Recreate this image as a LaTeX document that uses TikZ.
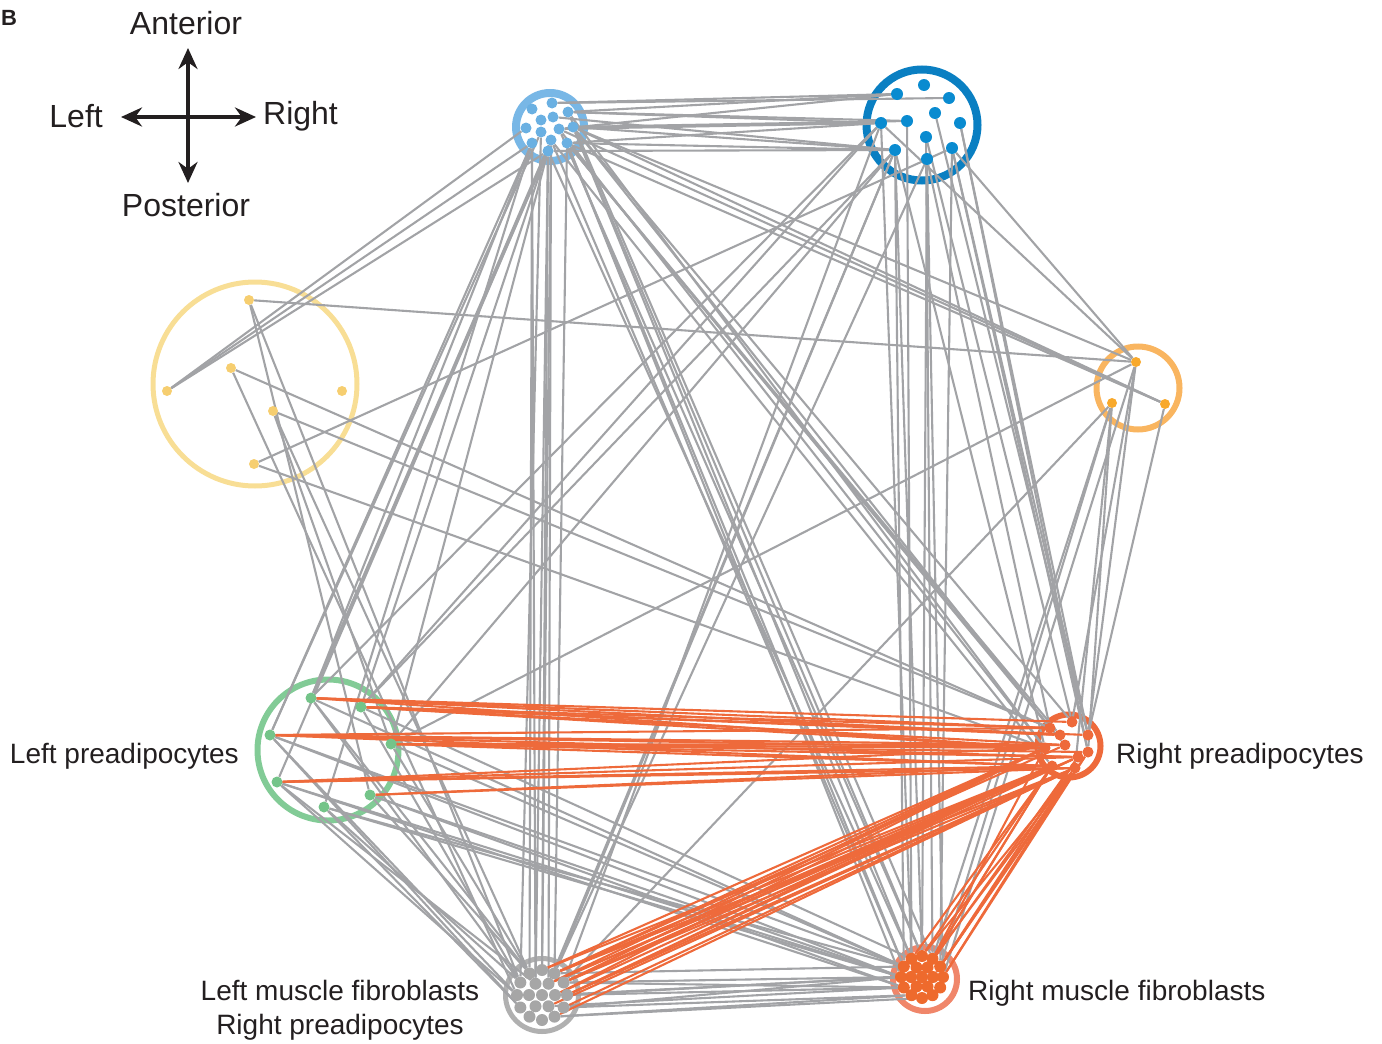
\documentclass[tikz,border=0pt]{standalone}
\usepackage{fontspec}
\setmainfont{Liberation Sans}
\usetikzlibrary{arrows.meta,calc}
\pgfdeclarelayer{ringlayer}
\pgfdeclarelayer{edgelayer}
\pgfsetlayers{ringlayer,edgelayer,main}
\definecolor{ink}{HTML}{231F20}
\definecolor{edgegray}{HTML}{A2A3A6}
\definecolor{edgeorange}{HTML}{EE6A3B}
\definecolor{lbring}{HTML}{78B7E6}
\definecolor{lbdot}{HTML}{6AB0E2}
\definecolor{dbring}{HTML}{0A7FC2}
\definecolor{dbdot}{HTML}{0A8BD0}
\definecolor{yring}{HTML}{F8DE95}
\definecolor{ydot}{HTML}{F6CE70}
\definecolor{oring}{HTML}{F9B560}
\definecolor{odot}{HTML}{F8A92C}
\definecolor{gring}{HTML}{82CB96}
\definecolor{gdot}{HTML}{74C489}
\definecolor{rring}{HTML}{EE6A3B}
\definecolor{gmring}{HTML}{B0B0B0}
\definecolor{gmdot}{HTML}{A6A6A6}
\definecolor{rmring}{HTML}{F0866A}
\definecolor{rmdot}{HTML}{EE6A2D}
\begin{document}
\begin{tikzpicture}[x=1pt,y=-1pt,
  dot/.style={circle,inner sep=0pt,minimum size=11pt,draw=none},
  dotLB/.style={dot,fill=lbdot},
  dotDB/.style={dot,fill=dbdot,minimum size=12pt},
  dotY/.style={dot,fill=ydot,minimum size=10pt},
  dotO/.style={dot,fill=odot,minimum size=10pt},
  dotG/.style={dot,fill=gdot,minimum size=11pt},
  dotR/.style={dot,fill=rring,minimum size=11pt},
  dotGM/.style={dot,fill=gmdot,minimum size=12pt},
  dotRM/.style={dot,fill=rmdot,minimum size=12pt},
  ring/.style={circle,draw,inner sep=0pt,fill=none},
  gedge/.style={draw=edgegray,line width=2.1pt},
  oedge/.style={draw=edgeorange,line width=2.1pt},
  lab/.style={font=\fontsize{28}{34}\selectfont,text=ink,inner sep=0pt},
  clab/.style={font=\fontsize{32}{38}\selectfont,text=ink,inner sep=0pt},
  compass/.style={line width=4pt,draw=ink,arrows={Stealth[length=21pt,width=19pt]-Stealth[length=21pt,width=19pt]}}
]
\useasboundingbox (0,0) rectangle (1382,1044);

% panel letter
\node[anchor=base west,font=\fontsize{22}{26}\selectfont\bfseries,text=ink,inner sep=0pt] (panel) at (1,25) {B};

% compass
\coordinate (cN) at (188,48);
\coordinate (cS) at (188,183);
\coordinate (cW) at (121,117);
\coordinate (cE) at (256,117);
\draw[compass] (cS) -- (cN);
\draw[compass] (cW) -- (cE);
\node[clab] (ant) at (186,23) {Anterior};
\node[clab] (post) at (186,205) {Posterior};
\node[clab,anchor=east] (left) at (103,116) {Left};
\node[clab,anchor=west] (right) at (263,116) {Right};

% rings
\begin{pgfonlayer}{ringlayer}
\node[ring,draw=lbring,line width=8pt,minimum size=68pt] (LBring) at (550,127) {};
\node[ring,draw=dbring,line width=8pt,minimum size=111pt] (DBring) at (922,125) {};
\node[ring,draw=yring,line width=5pt,minimum size=204pt] (Yring) at (255,384) {};
\node[ring,draw=oring,line width=6pt,minimum size=83pt] (Oring) at (1138,388) {};
\node[ring,draw=gring,line width=6pt,minimum size=141pt] (Gring) at (328,750) {};
\node[ring,draw=rring,line width=6pt,minimum size=63pt] (Rring) at (1069,746) {};
\node[ring,draw=gmring,line width=5pt,minimum size=73pt] (GMring) at (542,995) {};
\node[ring,draw=rmring,line width=6pt,minimum size=64pt] (RMring) at (925,979) {};
\end{pgfonlayer}

% dots: light blue
\foreach \n/\x/\y in {1/552/103,2/532/109,3/553/117,4/568/112,5/541/120,6/526/128,7/541/132,8/559/129,9/573/127,10/532/143,11/551/140,12/567/143,13/548/151}
  \node[dotLB] (lb\n) at (\x,\y) {};
% dark blue
\foreach \n/\x/\y in {1/924/85,2/897/94,3/949/98,4/935/113,5/881/123,6/907/121,7/960/123,8/926/137,9/895/150,10/952/148,11/927/159}
  \node[dotDB] (db\n) at (\x,\y) {};
% yellow
\foreach \n/\x/\y in {1/249/300,2/167/391,3/231/368,4/342/391,5/273/411,6/254/464}
  \node[dotY] (y\n) at (\x,\y) {};
% orange
\foreach \n/\x/\y in {1/1136/362,2/1112/403,3/1165/404}
  \node[dotO] (o\n) at (\x,\y) {};
% green
\foreach \n/\x/\y in {1/311/698,2/361/707,3/270/735,4/391/744,5/277/782,6/370/795,7/324/807}
  \node[dotG] (g\n) at (\x,\y) {};
% right preadipocytes
\foreach \n/\x/\y in {1/1050/728,2/1072/722,3/1088/735,4/1045/748,5/1065/745,6/1088/752,7/1052/766,8/1075/768,9/1060/735,10/1078/757}
  \node[dotR] (r\n) at (\x,\y) {};
% grey muscle fibroblasts
\coordinate (gmc) at (542,995);
\node[dotGM] (gm1) at (gmc) {};
\foreach \i/\a in {2/0,3/60,4/120,5/180,6/240,7/300}
  \node[dotGM] (gm\i) at ($(gmc)+(\a:13)$) {};
\foreach \i/\a in {8/0,9/30,10/60,11/90,12/120,13/150,14/180,15/210,16/240,17/270,18/300,19/330}
  \node[dotGM] (gm\i) at ($(gmc)+(\a:25)$) {};
% red muscle fibroblasts
\coordinate (rmc) at (922,977);
\node[dotRM] (rm1) at (rmc) {};
\foreach \i/\a in {2/0,3/60,4/120,5/180,6/240,7/300}
  \node[dotRM] (rm\i) at ($(rmc)+(\a:11)$) {};
\foreach \i/\a in {8/0,9/30,10/60,11/90,12/120,13/150,14/180,15/210,16/240,17/270,18/300,19/330}
  \node[dotRM] (rm\i) at ($(rmc)+(\a:21)$) {};

% edges
\begin{pgfonlayer}{edgelayer}
\foreach \a/\b in {lb1/db2,lb1/db3,lb4/db2,lb4/db5,lb9/db5,lb9/db6,lb8/db5,lb12/db9,lb9/db9,lb12/db5,lb4/db6,lb3/db9,lb13/db9,lb8/db2,
  y2/lb10,y2/lb6,y2/lb13,
  lb9/o1,lb9/o3,lb12/o3,lb8/o3,
  lb10/g1,lb13/g1,lb11/g1,lb7/g3,lb13/g5,lb11/g2,lb10/g7,lb13/g4,lb10/g3,
  lb13/gm17,lb11/gm17,lb10/gm16,lb7/gm15,lb13/gm6,lb12/gm18,lb11/gm7,lb10/gm6,
  lb12/r1,lb9/r1,lb8/r4,lb12/r5,lb11/r7,lb9/r2,lb4/r4,lb12/r9,
  lb12/rm15,lb9/rm16,lb8/rm17,lb12/rm14,lb13/rm16,lb11/rm15,lb9/rm17,lb4/rm18,
  db5/g1,db9/g2,db9/g4,db5/g2,
  db9/gm18,db5/gm19,db11/gm18,db9/gm7,
  db10/r3,db7/r3,db10/r6,db11/r1,db8/r2,db7/r6,db4/r3,db9/r4,
  db9/rm17,db11/rm17,db8/rm18,db6/rm16,db11/rm8,db10/rm19,db9/rm15,db5/rm16,
  db5/o1,db10/o1,
  y1/o1,y1/gm15,y1/g6,y3/r1,y3/gm14,y5/r1,y5/gm16,y5/g4,y6/r4,y6/db10,
  o1/r2,o1/r3,o2/r6,o2/r8,o3/r3,o2/rm19,o1/rm8,o2/rm18,o1/g4,o2/gm19,
  g1/gm15,g3/gm14,g5/gm14,g7/gm15,g6/gm16,g4/gm16,g2/gm15,g5/gm6,g3/gm13,g7/gm13,g1/gm16,
  g3/rm14,g5/rm14,g7/rm15,g6/rm14,g4/rm15,g2/rm16,g1/rm15,g5/rm13,g3/rm15,g6/rm13,g7/rm14,
  gm8/rm14,gm9/rm14,gm19/rm13,gm10/rm12,gm2/rm14,gm18/rm15,gm3/rm13,gm8/rm13,gm9/rm12,gm19/rm14,gm10/rm11}
  \draw[gedge] (\a) -- (\b);
\foreach \a/\b in {g1/r1,g1/r4,g1/r2,g1/r9,g2/r1,g2/r4,g2/r5,g2/r9,g3/r4,g3/r5,g3/r7,g3/r1,g3/r10,g4/r4,g4/r5,g4/r7,g4/r10,g5/r7,g5/r8,g5/r4,g5/r10,g6/r7,g6/r8,g2/r3,g4/r6,
  gm18/r4,gm18/r7,gm19/r7,gm19/r8,gm8/r8,gm7/r4,gm7/r7,gm17/r4,gm2/r7,gm8/r7,gm19/r4,gm18/r8,gm9/r8,gm3/r8,gm10/r8,gm17/r7,gm19/r10,gm8/r10,gm2/r4,gm7/r10,gm18/r5,
  rm17/r7,rm18/r7,rm18/r8,rm19/r8,rm8/r8,rm7/r7,rm17/r8,rm16/r7,rm19/r6,rm8/r6,rm2/r8,rm18/r4,rm19/r10,rm7/r10}
  \draw[oedge] (\a) -- (\b);
\end{pgfonlayer}

% labels
\node[lab,anchor=east] (lpa) at (239,756) {Left preadipocytes};
\node[lab,anchor=west] (rpa) at (1116,756) {Right preadipocytes};
\node[lab,align=center] (lmf) at (340,1010) {Left muscle fibroblasts\\Right preadipocytes};
\node[lab,anchor=west] (rmf) at (968,993) {Right muscle fibroblasts};
\end{tikzpicture}
\end{document}
